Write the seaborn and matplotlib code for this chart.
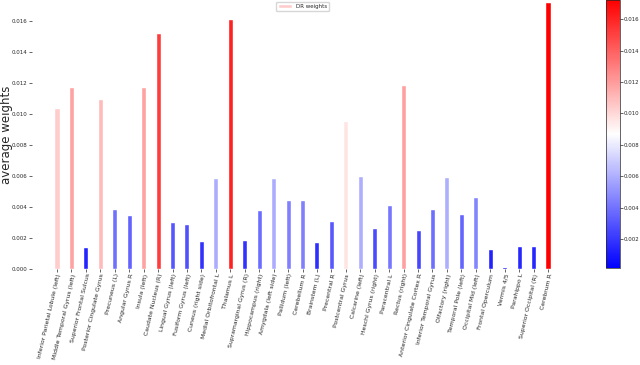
import seaborn as sns
import matplotlib.pyplot as plt
import matplotlib as mpl
import numpy as np
import pandas as pd

regions = ['Inferior Parietal Lobule (left)', 'Middle Temporal Gyrus (left)', 'Superior Frontal Sulcus',
           'Posterior Cingulate Gyrus', 'Precuneus (L)', 'Angular Gyrus R', 'Insula (left)',
           'Caudate Nucleus (R)', 'Lingual Gyrus (left)', 'Fusiform Gyrus (left)', 'Cuneus (right side)',
           'Medial Orbitofrontal L', 'Thalamus L', 'Supramarginal Gyrus (R)', 'Hippocampus (right)',
           'Amygdala (left side)', 'Pallidum (left)', 'Cerebellum R', 'Brainstem (L)', 'Precentral R',
           'Postcentral Gyrus', 'Calcarine (left)', 'Heschl Gyrus (right)', 'Paracentral L',
           'Rectus (right)', 'Anterior Cingulate Cortex R', 'Inferior Temporal Gyrus', 'Olfactory (right)',
           'Temporal Pole (left)', 'Occipital Mid (left)', 'Frontal Operculum', 'Vermis 4/5',
           'Parahippo L', 'Superior Occipital (R)', 'Cerebrum R']

weights = [0.01041, 0.01176, 0.00140, 0.01097, 0.00389, 0.00346, 0.01176, 0.01521, 0.00305,
           0.00288, 0.00183, 0.00589, 0.01611, 0.00187, 0.00379, 0.00589, 0.00447, 0.00443,
           0.00172, 0.00312, 0.00957, 0.00602, 0.00262, 0.00411, 0.01185, 0.00252, 0.00385,
           0.00596, 0.00353, 0.00462, 0.00129, 0.00015, 0.00148, 0.00148, 0.01723]

legend_label = 'DR weights'

df = pd.DataFrame({'region': regions, 'weight': weights})

sns.set_style('white')

norm = mpl.colors.Normalize(vmin=min(weights), vmax=max(weights))
cmap = plt.get_cmap('bwr')
colors = [cmap(norm(w)) for w in weights]

fig = plt.figure(figsize=(6.4, 3.65), dpi=100)
ax = fig.add_axes([32/640, 96/365, 541/640, 269/365])
cax = fig.add_axes([606/640, 97/365, 14/640, 268/365])

sns.barplot(data=df, x='region', y='weight', hue='region', palette=colors,
            width=0.35, legend=False, ax=ax, saturation=1)

ax.set_xlim(-1.73, len(regions) - 1 + 1.73)
ax.set_ylim(0, 0.01735)
ax.set_yticks(np.arange(0, 0.0161, 0.002))
ax.set_yticklabels(['%.3f' % t for t in np.arange(0, 0.0161, 0.002)])
ax.set_xlabel('')
ax.set_ylabel('average weights', fontsize=8.5)
ax.yaxis.set_label_coords(-0.035, 0.5)
ax.tick_params(axis='y', labelsize=4, length=2, width=0.5, pad=1, left=True)
ax.tick_params(axis='x', labelsize=4.4, length=2, width=0.5, pad=1, bottom=True)
plt.setp(ax.get_xticklabels(), rotation=77, ha='right', rotation_mode='anchor')
sns.despine(ax=ax, left=True, bottom=True)

ax.legend(handles=[ax.patches[0]], labels=[legend_label], loc='upper center',
          fontsize=4, frameon=True, handlelength=2.5, borderaxespad=0.3)

sm = mpl.cm.ScalarMappable(norm=norm, cmap=cmap)
cb = fig.colorbar(sm, cax=cax)
cb.set_ticks(np.arange(0.002, 0.0161, 0.002))
cb.ax.tick_params(labelsize=3.9, length=2, width=0.5, pad=0.8)
cb.outline.set_linewidth(0.5)

plt.savefig('out.png', dpi=100)
